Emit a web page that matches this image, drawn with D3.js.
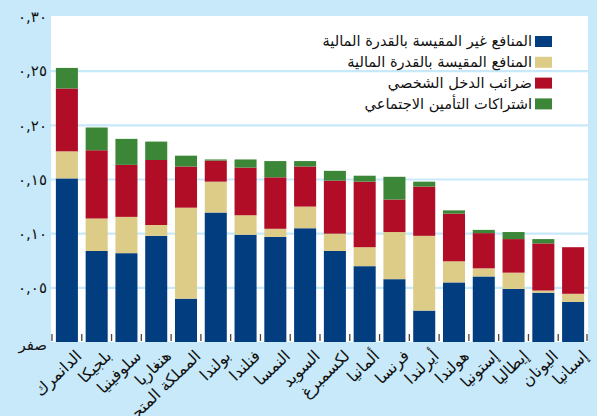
<!DOCTYPE html>
<html>
<head>
<meta charset="utf-8">
<script src="https://cdn.jsdelivr.net/npm/d3@7"></script>
<style>
  body { margin: 0; background: #c7e9f9; }
  svg { display: block; font-family: "DejaVu Sans", sans-serif; }
</style>
</head>
<body>
<svg width="597" height="416"></svg>
<script>
var width = 597;
var height = 416;

// countries, left to right
var countries = ["الدانمرك", "بلجيكا", "سلوفينيا", "هنغاريا", "المملكة المتحدة", "بولندا", "فنلندا", "النمسا", "السويد",
                 "لكسمبرغ", "ألمانيا", "فرنسا", "أيرلندا", "هولندا", "إستونيا", "إيطاليا", "اليونان", "إسبانيا"];

// stacked pieces, bottom to top
var untestedBenefits = [0.151, 0.084, 0.082, 0.098, 0.040, 0.1195, 0.099, 0.097, 0.105, 0.084, 0.070, 0.058, 0.029, 0.055, 0.0605, 0.049, 0.0455, 0.037];
var testedBenefits   = [0.025, 0.030, 0.0335, 0.010, 0.084, 0.0285, 0.018, 0.0075, 0.020, 0.016, 0.0175, 0.0435, 0.069, 0.0195, 0.0075, 0.015, 0.002, 0.0075];
var incomeTax        = [0.058, 0.063, 0.048, 0.060, 0.038, 0.0195, 0.044, 0.0475, 0.037, 0.049, 0.0605, 0.030, 0.0455, 0.044, 0.0325, 0.031, 0.0435, 0.043];
var socialSecurity   = [0.019, 0.021, 0.024, 0.017, 0.010, 0.001, 0.0075, 0.015, 0.005, 0.009, 0.0055, 0.021, 0.0045, 0.003, 0.003, 0.0065, 0.004, 0];

var seriesNames = ["المنافع غير المقيسة بالقدرة المالية", "المنافع المقيسة بالقدرة المالية", "ضرائب الدخل الشخصي", "اشتراكات التأمين الاجتماعي"];
var colors = ["#023e7f", "#ddcc88", "#b10d27", "#3b8637"];

var yTickValues = [0, 0.05, 0.10, 0.15, 0.20, 0.25, 0.30];
var yTickLabels = ["صفر", "٠,٠٥", "٠,١٠", "٠,١٥", "٠,٢٠", "٠,٢٥", "٠,٣٠"];

var plot = {left: 51, right: 588, top: 16, bottom: 342};

var svg = d3.select("svg");

var x = d3.scaleBand()
    .domain(countries)
    .range([plot.left + 1, plot.right])
    .paddingInner(0.26)
    .paddingOuter(0.13);

var y = d3.scaleLinear()
    .domain([0, 0.30])
    .range([plot.bottom, 17]);

// white plot area
svg.append("rect")
    .attr("x", plot.left)
    .attr("y", plot.top)
    .attr("width", plot.right - plot.left)
    .attr("height", plot.bottom - plot.top)
    .attr("fill", "#ffffff");

// grid
svg.append("g")
    .selectAll("line")
    .data(yTickValues.filter(function(d) { return d > 0 && d < 0.30; }))
    .enter().append("line")
    .attr("x1", plot.left)
    .attr("x2", plot.right)
    .attr("y1", function(d) { return y(d); })
    .attr("y2", function(d) { return y(d); })
    .attr("stroke", "#c7e9f9")
    .attr("stroke-width", 2.2);

// stack the data
var table = countries.map(function(c, i) {
    return {country: c, s0: untestedBenefits[i], s1: testedBenefits[i], s2: incomeTax[i], s3: socialSecurity[i]};
});
var stack = d3.stack().keys(["s0", "s1", "s2", "s3"]);
var layers = stack(table);

svg.append("g")
    .selectAll("g")
    .data(layers)
    .enter().append("g")
    .attr("fill", function(d, i) { return colors[i]; })
    .selectAll("rect")
    .data(function(d) { return d; })
    .enter().append("rect")
    .attr("x", function(d) { return x(d.data.country); })
    .attr("width", x.bandwidth())
    .attr("y", function(d) { return y(d[1]); })
    .attr("height", function(d) { return y(d[0]) - y(d[1]); });

// little ticks between bars
var step = x.step();
var tickXs = countries.map(function(c) { return x(c) - (step - x.bandwidth()) / 2; });
tickXs.push(plot.right - 1);
svg.append("g")
    .selectAll("line")
    .data(tickXs)
    .enter().append("line")
    .attr("x1", function(d) { return d; })
    .attr("x2", function(d) { return d; })
    .attr("y1", plot.bottom - 8)
    .attr("y2", plot.bottom - 1)
    .attr("stroke", "#444")
    .attr("stroke-width", 1.3);

// y labels
svg.append("g")
    .selectAll("text")
    .data(yTickValues)
    .enter().append("text")
    .attr("x", 47)
    .attr("y", function(d) { return y(d) + (d === 0 ? 3 : 0); })
    .attr("dy", "0.35em")
    .attr("text-anchor", "end")
    .attr("font-size", 15)
    .attr("fill", "#111")
    .text(function(d, i) { return yTickLabels[i]; });

// x labels
svg.append("g")
    .selectAll("text")
    .data(countries)
    .enter().append("text")
    .attr("transform", function(d) {
        return "translate(" + (x(d) + x.bandwidth() / 2 + 8) + "," + (plot.bottom + 7) + ") rotate(-44)";
    })
    .attr("text-anchor", "end")
    .attr("dy", "0.7em")
    .attr("font-size", 16)
    .attr("fill", "#111")
    .text(function(d) { return d; });

// legend
var legend = svg.append("g");
var legendItems = legend.selectAll("g")
    .data(seriesNames)
    .enter().append("g")
    .attr("transform", function(d, i) { return "translate(0," + (41 + i * 20.8) + ")"; });

legendItems.append("rect")
    .attr("x", 535)
    .attr("y", -5)
    .attr("width", 17)
    .attr("height", 11)
    .attr("fill", function(d, i) { return colors[i]; });

legendItems.append("text")
    .attr("x", 532)
    .attr("dy", "0.35em")
    .attr("text-anchor", "end")
    .attr("font-size", 14.6)
    .attr("fill", "#111")
    .text(function(d) { return d; });
</script>
</body>
</html>
